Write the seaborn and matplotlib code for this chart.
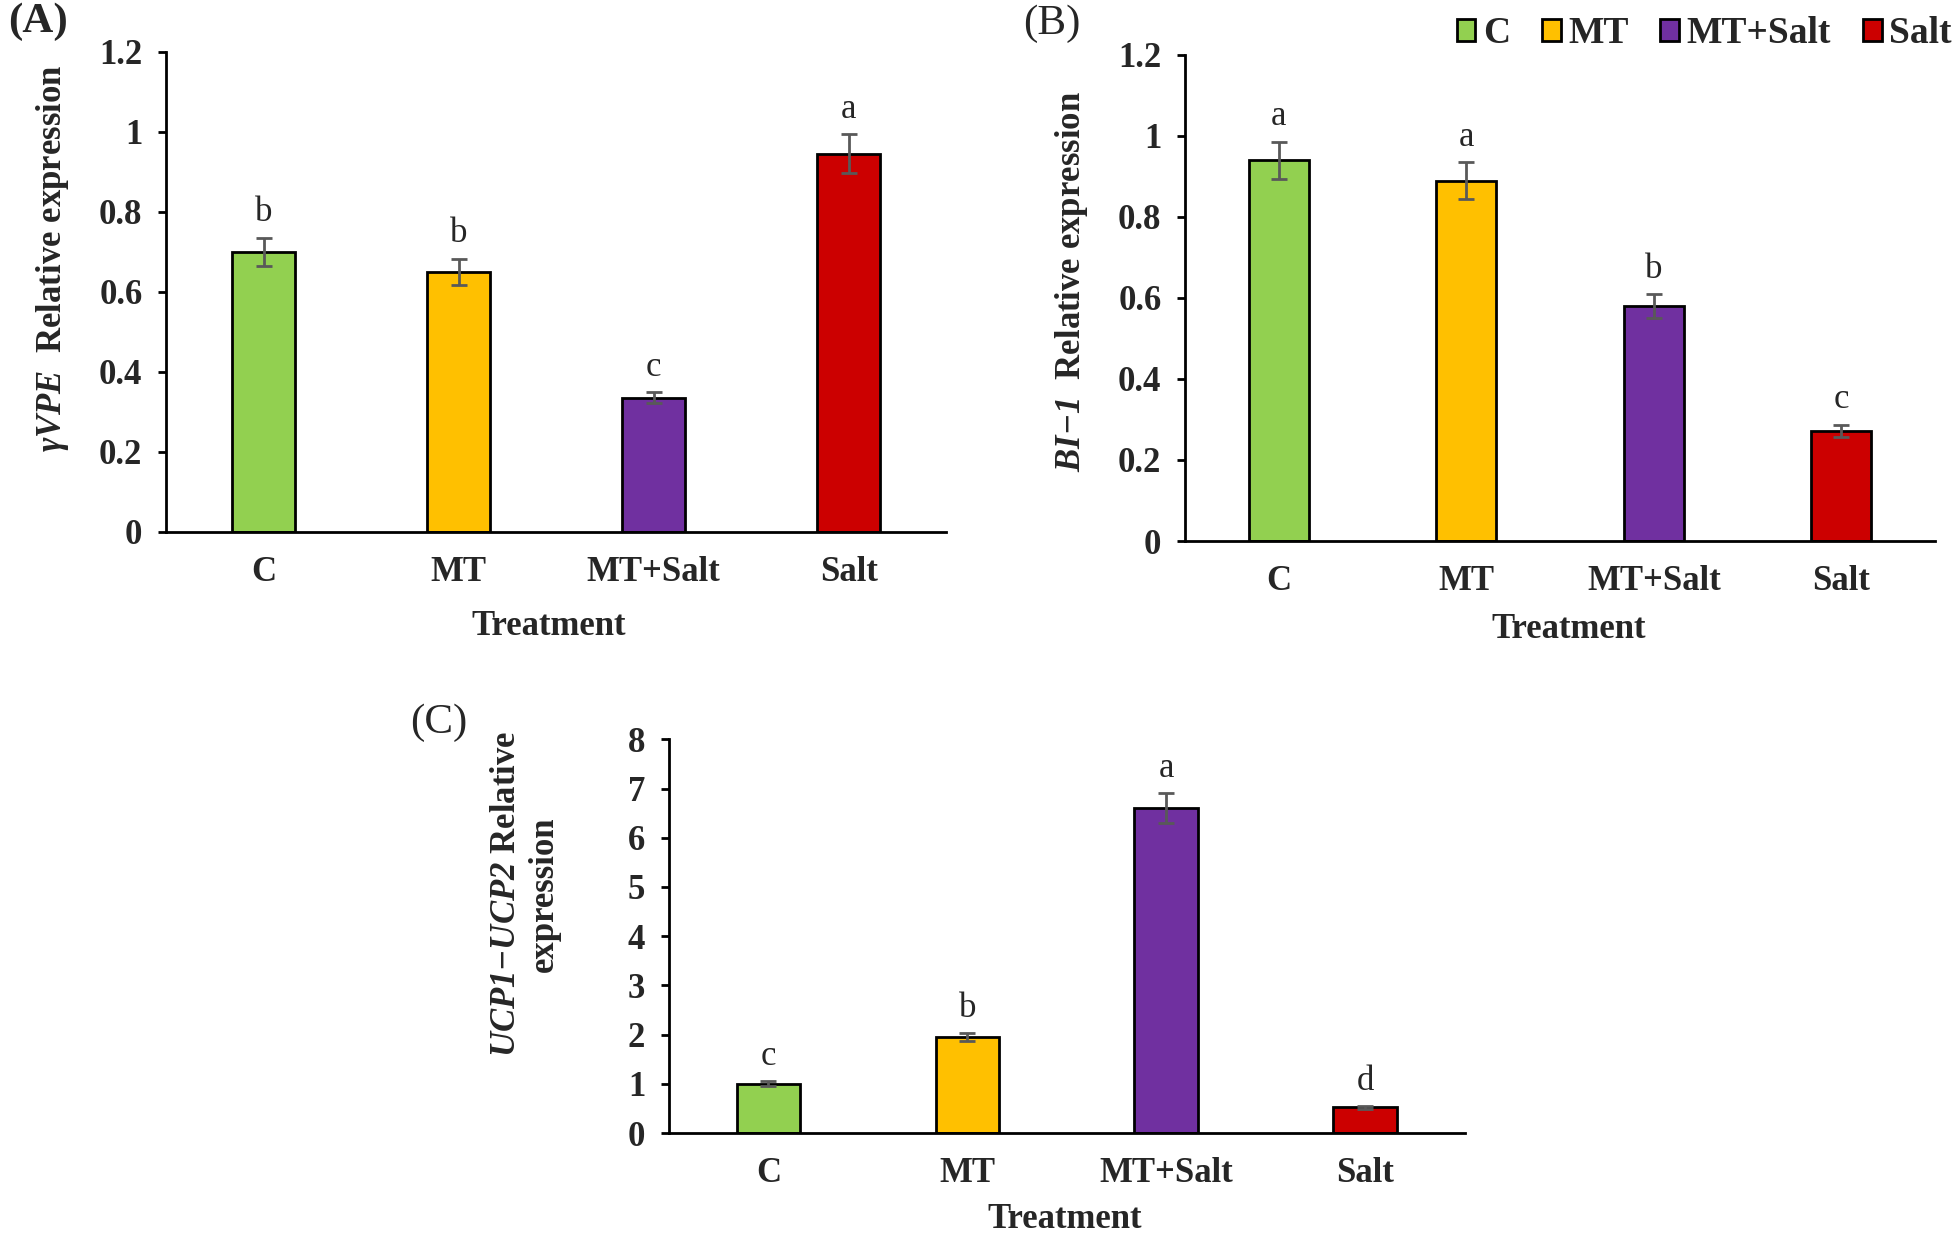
import matplotlib
matplotlib.use('Agg')
import matplotlib.pyplot as plt
import seaborn as sns
from matplotlib.patches import Patch

# data
treatments = ['C', 'MT', 'MT+Salt', 'Salt']
colors = ['#92D050', '#FFC000', '#7030A0', '#CC0000']

vpe_mean = [0.70, 0.65, 0.335, 0.945]
vpe_err = [0.035, 0.033, 0.014, 0.048]
vpe_letters = ['b', 'b', 'c', 'a']

bi1_mean = [0.94, 0.89, 0.58, 0.272]
bi1_err = [0.046, 0.046, 0.03, 0.015]
bi1_letters = ['a', 'a', 'b', 'c']

ucp_mean = [1.0, 1.95, 6.6, 0.52]
ucp_err = [0.05, 0.08, 0.3, 0.03]
ucp_letters = ['c', 'b', 'a', 'd']

sns.set_style('white')
plt.rcParams['font.family'] = ['Liberation Serif', 'DejaVu Serif']
plt.rcParams['font.weight'] = 'bold'
plt.rcParams['mathtext.fontset'] = 'custom'
plt.rcParams['mathtext.bfit'] = 'Liberation Serif:bold:italic'
plt.rcParams['mathtext.it'] = 'Liberation Serif:italic'
plt.rcParams['mathtext.rm'] = 'Liberation Serif'
plt.rcParams['mathtext.bf'] = 'Liberation Serif:bold'

FS = 25

fig = plt.figure(figsize=(19.6, 12.38), dpi=100)
axA = fig.add_axes([0.0847, 0.5703, 0.398, 0.388])
axB = fig.add_axes([0.6046, 0.563, 0.3827, 0.3926])
axC = fig.add_axes([0.3413, 0.0848, 0.406, 0.318])


def panel(ax, mean, err, letters, ymax, step, ylabel, ylab_xy, xlab_xy):
    sns.barplot(x=treatments, y=mean, hue=treatments, palette=colors, saturation=1,
                width=0.32, edgecolor='black', linewidth=2, legend=False, ax=ax)
    ax.errorbar(x=list(range(len(treatments))), y=mean, yerr=err, fmt='none',
                ecolor='#595959', elinewidth=2, capsize=6, capthick=2)
    for i, (m, e, l) in enumerate(zip(mean, err, letters)):
        ax.annotate(l, (i, m + e), xytext=(0, 6), textcoords='offset points',
                    ha='center', va='bottom', fontsize=FS, fontweight='normal')
    ax.set_xlim(-0.5, 3.5)
    ax.set_ylim(0, ymax)
    ticks = [round(k * step, 2) for k in range(int(round(ymax / step)) + 1)]
    ax.set_yticks(ticks)
    ax.set_yticklabels(['%g' % t for t in ticks], fontsize=FS, fontweight='bold')
    ax.set_xticks(range(len(treatments)))
    ax.set_xticklabels(treatments, fontsize=FS, fontweight='bold')
    ax.set_xticks([-0.5, 0.5, 1.5, 2.5, 3.5], minor=True)
    ax.tick_params(axis='x', which='major', length=0, pad=17)
    ax.tick_params(axis='x', which='minor', length=7, width=2, direction='out', color='black')
    ax.tick_params(axis='y', length=6, width=2, direction='out', pad=11, color='black', left=True)
    for s in ['top', 'right']:
        ax.spines[s].set_visible(False)
    for s in ['left', 'bottom']:
        ax.spines[s].set_linewidth(2)
        ax.spines[s].set_color('black')
    ax.set_ylabel(ylabel, fontsize=FS, fontweight='bold')
    ax.yaxis.set_label_coords(*ylab_xy)
    ax.set_xlabel('Treatment', fontsize=FS, fontweight='bold')
    ax.xaxis.set_label_coords(*xlab_xy)


panel(axA, vpe_mean, vpe_err, vpe_letters, 1.2, 0.2,
      r'$\mathbfit{\gamma VPE}$  Relative expression', (-0.122, 0.569), (0.49, -0.163))
panel(axB, bi1_mean, bi1_err, bi1_letters, 1.2, 0.2,
      r'$\mathbfit{BI{-}1}$  Relative expression', (-0.127, 0.533), (0.512, -0.148))
panel(axC, ucp_mean, ucp_err, ucp_letters, 8, 1,
      r'$\mathbfit{UCP1{-}UCP2}$ Relative' + '\nexpression', (-0.136, 0.607), (0.497, -0.178))

fig.text(0.004, 0.998, '(A)', fontsize=31, fontweight='bold', va='top', ha='left')
fig.text(0.522, 0.996, '(B)', fontsize=31, fontweight='normal', va='top', ha='left')
fig.text(0.209, 0.432, '(C)', fontsize=31, fontweight='normal', va='top', ha='left')

handles = [Patch(facecolor=c, edgecolor='black', linewidth=2, label=t)
           for c, t in zip(colors, treatments)]
fig.legend(handles=handles, loc='upper right', bbox_to_anchor=(1.013, 1.014), ncol=4,
           frameon=False, prop={'family': 'Liberation Serif', 'weight': 'bold', 'size': 27},
           handlelength=0.5, handleheight=0.55, handletextpad=0.2, columnspacing=0.85)

fig.savefig('out.png', dpi=100)
